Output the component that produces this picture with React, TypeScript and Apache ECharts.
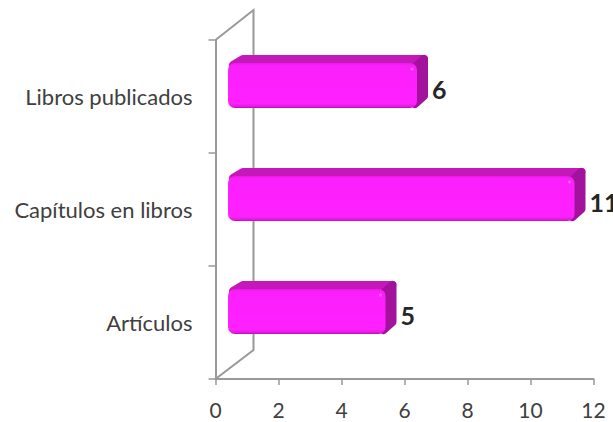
import React, { useEffect, useRef } from "react";
import * as echarts from "echarts";

const categories = ["Artículos", "Capítulos en libros", "Libros publicados"];
const values = [5, 11, 6];
const xTicks = { min: 0, max: 12, interval: 2 };

const FONT = "Lato, 'Open Sans', sans-serif";
const AXIS = "#999999";
const TEXT = "#404040";

export default function App() {
  const ref = useRef<HTMLDivElement>(null);
  useEffect(() => {
    const chart = echarts.init(ref.current!, undefined, { renderer: "svg" });
    const X0 = 215.5, YB = 379, YT = 40, DX = 38, DY = 29;
    chart.setOption({
      animation: false,
      backgroundColor: "#fff",
      grid: { left: X0, right: 613 - 593.5, top: YT, bottom: 422 - YB, containLabel: false },
      xAxis: {
        type: "value",
        ...xTicks,
        splitLine: { show: false },
        axisLine: { show: true, lineStyle: { color: AXIS, width: 2 } },
        axisTick: { show: true, length: 6, lineStyle: { color: AXIS, width: 1.5 } },
        axisLabel: { color: TEXT, fontFamily: FONT, fontSize: 21, margin: 20, hideOverlap: false },
      },
      yAxis: {
        type: "category",
        data: categories,
        axisLine: { show: true, onZero: false, lineStyle: { color: AXIS, width: 2 } },
        axisTick: { show: true, length: 7, lineStyle: { color: AXIS, width: 1.5 } },
        axisLabel: { color: TEXT, fontFamily: FONT, fontSize: 22, margin: 23 },
      },
      graphic: [
        {
          type: "polyline",
          silent: true,
          z: 1,
          shape: {
            points: [
              [X0, YB],
              [X0 + DX, YB - DY],
              [X0 + DX, YT - 30],
              [X0, YT],
            ],
          },
          style: { stroke: AXIS, lineWidth: 2, fill: "none" },
        },
      ],
      series: [
        {
          type: "custom",
          z: 5,
          clip: false,
          coordinateSystem: "cartesian2d",
          encode: { x: 0, y: 1 },
          data: values.map((v, i) => [v, i]),
          renderItem: (_: any, api: any) => {
            const val = api.value(0);
            const end = api.coord([val, api.value(1)]);
            const start = api.coord([0, api.value(1)]);
            const x0 = start[0] + 12.5;
            const x1 = end[0] + 12.5;
            const cy = end[1] - 11;
            const h = 45;
            const y0 = cy - h / 2;
            const y1 = cy + h / 2;
            const dx = 11;
            const dy = 8;
            const r = 4;
            return {
              type: "group",
              children: [
                {
                  type: "polygon",
                  shape: {
                    points: [
                      [x0 + r + 1, y0 + 2],
                      [x0 + dx + r, y0 - dy + r],
                      [x1 + dx - r, y0 - dy + r],
                      [x1 - r, y0 + r],
                    ],
                  },
                  style: { fill: "#c418b8", stroke: "#c418b8", lineWidth: r * 2, lineJoin: "round" },
                },
                {
                  type: "polygon",
                  shape: {
                    points: [
                      [x1 - 2, y0 + r],
                      [x1 + dx - r, y0 - dy + r],
                      [x1 + dx - r, y1 - dy - r],
                      [x1 - 2, y1 - r],
                    ],
                  },
                  style: { fill: "#a3129c", stroke: "#a3129c", lineWidth: r * 2, lineJoin: "round" },
                },
                {
                  type: "rect",
                  shape: { x: x0, y: y0, width: x1 - x0, height: h, r: 7 },
                  style: {
                    fill: {
                      type: "linear",
                      x: 0,
                      y: 0,
                      x2: 0,
                      y2: 1,
                      colorStops: [
                        { offset: 0, color: "#e81ae4" },
                        { offset: 0.06, color: "#fb20fb" },
                        { offset: 0.9, color: "#ff20ff" },
                        { offset: 0.96, color: "#e81ae4" },
                        { offset: 1, color: "#b812b0" },
                      ],
                    },
                  },
                },
                {
                  type: "circle",
                  shape: { cx: x1 - 5, cy: y0 + 6, r: 1.5 },
                  style: { fill: "#ff70ff" },
                },
                {
                  type: "text",
                  style: {
                    x: x1 + dx + 4,
                    y: cy + 3,
                    text: String(val),
                    fill: "#262626",
                    font: `bold 25px ${FONT}`,
                    verticalAlign: "middle",
                    align: "left",
                  },
                },
              ],
            };
          },
        },
      ],
    });
    return () => chart.dispose();
  }, []);
  return <div ref={ref} style={{ position: "fixed", left: 0, top: 0, width: 613, height: 422 }} />;
}
